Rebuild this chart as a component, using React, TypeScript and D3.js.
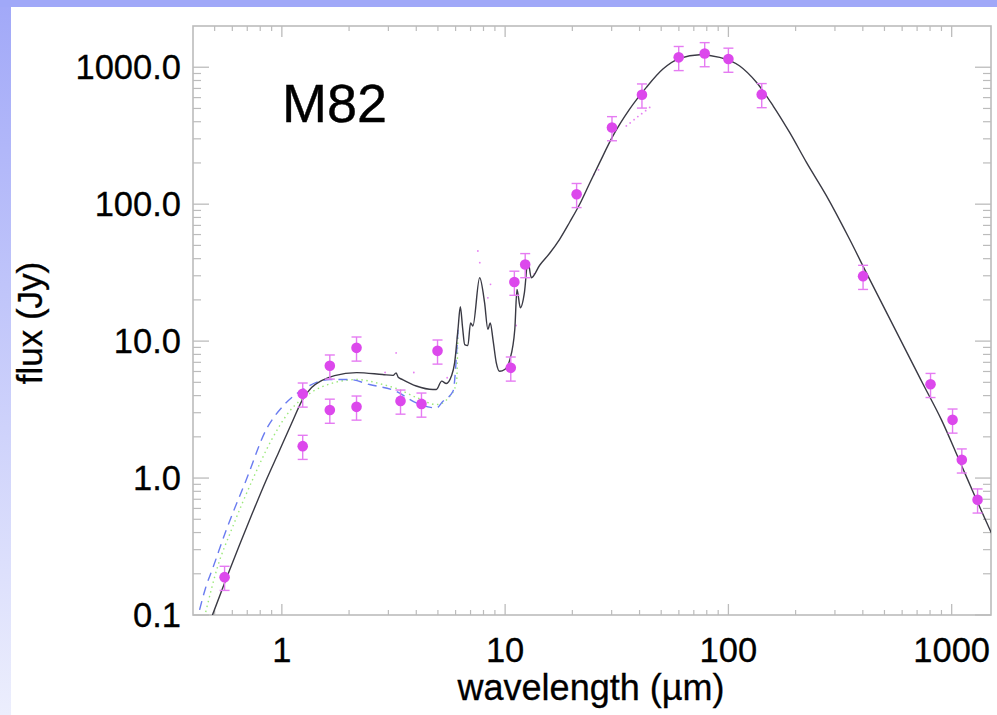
import React from "react";
import * as d3 from "d3";

// Photometric data (wavelength in µm, flux in Jy)
const WAVELENGTH = [0.554, 1.24, 1.24, 1.64, 1.64, 2.16, 2.16, 3.4, 4.22, 4.98, 10.6, 11.0, 12.3, 20.9, 30.1, 41, 59.9, 78.3, 100, 141, 401, 804, 1009, 1110, 1306];
const FLUX = [0.189, 4.12, 1.71, 6.6, 3.14, 8.93, 3.31, 3.66, 3.48, 8.49, 6.38, 27.0, 36.3, 118, 363, 629, 1181, 1260, 1148, 633, 29.8, 4.84, 2.66, 1.36, 0.694];

// Model SED (solid)
const MODEL_WAVE = [0.489, 0.565, 0.646, 0.739, 0.845, 0.966, 1.105, 1.238, 1.359, 1.506, 1.722, 2.161, 2.826, 3.15, 3.25, 3.32, 3.47, 4.0, 4.75, 4.92, 5.2, 5.45, 5.74, 5.94, 6.15, 6.3, 6.45, 6.59, 6.81, 7.0, 7.17, 7.69, 8.09, 8.37, 8.58, 8.82, 9.13, 9.45, 9.95, 10.5, 11.05, 11.3, 11.7, 12.2, 12.65, 13.1, 14.28, 15.83, 17.54, 19.45, 21.57, 24.0, 26.5, 30.4, 36.1, 42.9, 50.9, 60.5, 74.4, 91.4, 112, 133.5, 158.5, 188, 224, 275, 349, 422, 745, 900, 1079, 1291, 1507];
const MODEL_FLUX = [0.1, 0.1865, 0.325, 0.557, 0.94, 1.53, 2.5, 3.74, 4.58, 5.15, 5.6, 5.89, 5.7, 5.62, 5.86, 5.45, 5.24, 4.7, 4.43, 4.43, 5.1, 4.9, 5.53, 6.94, 12.2, 17.8, 12.5, 9.44, 9.29, 13.6, 12.9, 29.0, 19.1, 12.2, 13.6, 10.3, 6.94, 6.02, 6.2, 7.33, 12.2, 23.8, 17.5, 22.6, 38.4, 29.0, 35.8, 43.8, 55.4, 73.8, 99.8, 144, 201, 315, 494, 713, 970, 1161, 1234, 1181, 1025, 776, 523, 334, 201, 115, 55.4, 29.8, 4.84, 2.66, 1.36, 0.694, 0.396];

// Alternative model (blue dashed)
const DASH_WAVE = [0.428, 0.455, 0.491, 0.564, 0.693, 0.851, 1.01, 1.24, 1.64, 2.01, 2.47, 3.25, 4.0, 4.92, 5.26, 5.84, 6.15];
const DASH_FLUX = [0.109, 0.157, 0.221, 0.419, 0.972, 2.26, 3.34, 4.43, 5.24, 5.24, 4.82, 4.3, 3.54, 3.25, 3.63, 4.3, 12.2];

// Alternative model (green dotted)
const DOT_WAVE = [0.456, 0.515, 0.595, 0.739, 0.899, 1.08, 1.33, 1.72, 2.16, 2.83, 3.26, 4.01, 4.93, 5.64, 6.06, 6.15];
const DOT_FLUX = [0.105, 0.224, 0.419, 0.972, 1.9, 3.06, 4.14, 4.98, 5.24, 4.82, 4.51, 3.87, 3.44, 3.93, 4.98, 12.2];

// Spectrum (sparse magenta dots)
const SPEC_WAVE = [2.9, 3.25, 3.9, 5.5, 7.55, 7.7, 8.37, 8.6, 11.2, 13.5, 25.0, 26.2, 34.9, 36.3, 37.8, 39.3, 40.9, 42.6, 44.4];
const SPEC_FLUX = [5.9, 8.2, 5.9, 5.4, 45.5, 37.4, 20.7, 26.0, 13.0, 31.0, 165, 178, 373, 392, 414, 436, 458, 482, 509];

const X_TICKS = [1, 10, 100, 1000];
const X_TICK_LABELS = ["1", "10", "100", "1000"];
const Y_TICKS = [0.1, 1, 10, 100, 1000];
const Y_TICK_LABELS = ["0.1", "1.0", "10.0", "100.0", "1000.0"];

const FONT = "'Liberation Sans', Arial, Helvetica, sans-serif";

export default function App() {
  const W = 997;
  const H = 715;
  const L = 193, R = 991, T = 26, B = 615;
  const x = d3.scaleLog().domain([0.4, 1500]).range([L, R]);
  const y = d3.scaleLog().domain([0.1, 2000]).range([B, T]);

  const line = d3
    .line<[number, number]>()
    .x((d) => x(d[0]))
    .y((d) => y(d[1]))
    .curve(d3.curveMonotoneX);

  const zip = (a: number[], b: number[]) => a.map((v, i) => [v, b[i]] as [number, number]);

  const minorX: number[] = [];
  const minorY: number[] = [];
  [0.1, 1, 10, 100, 1000].forEach((d) => {
    for (let k = 2; k <= 9; k++) {
      const v = d * k;
      if (v > 0.4 && v < 1500) minorX.push(v);
      if (v > 0.1 && v < 2000) minorY.push(v);
    }
  });

  const axisColor = "#bcbcbc";
  const ptColor = "#dc48ec";
  const errColor = "#e57bf2";

  return (
    <div style={{ position: "absolute", left: 0, top: 0, width: W, height: H }}>
      <svg width={W} height={H} style={{ display: "block" }}>
        <defs>
          <linearGradient id="leftbar" x1="0" y1="0" x2="0" y2="1">
            <stop offset="0" stopColor="#a2a9f8" />
            <stop offset="1" stopColor="#eceefd" />
          </linearGradient>
          <clipPath id="plotclip">
            <rect x={L} y={T} width={R - L} height={B - T} />
          </clipPath>
        </defs>
        <rect x={0} y={0} width={W} height={H} fill="#ffffff" />
        <rect x={0} y={0} width={W} height={7} fill="#a0a8f8" />
        <rect x={0} y={7} width={11} height={H - 7} fill="url(#leftbar)" />

        {/* frame */}
        <rect x={L} y={T} width={R - L} height={B - T} fill="none" stroke={axisColor} strokeWidth={1.6} />

        {/* x ticks */}
        {X_TICKS.map((v) => (
          <g key={"xt" + v}>
            <line x1={x(v)} x2={x(v)} y1={B} y2={B - 11} stroke={axisColor} strokeWidth={1.3} />
            <line x1={x(v)} x2={x(v)} y1={T} y2={T + 11} stroke={axisColor} strokeWidth={1.3} />
          </g>
        ))}
        {minorX.map((v) => (
          <g key={"xm" + v}>
            <line x1={x(v)} x2={x(v)} y1={B} y2={B - 5} stroke={axisColor} strokeWidth={1.2} />
            <line x1={x(v)} x2={x(v)} y1={T} y2={T + 5} stroke={axisColor} strokeWidth={1.2} />
          </g>
        ))}
        {/* y ticks */}
        {Y_TICKS.map((v) => (
          <g key={"yt" + v}>
            <line x1={L} x2={L + 16} y1={y(v)} y2={y(v)} stroke={axisColor} strokeWidth={1.3} />
            <line x1={R} x2={R - 16} y1={y(v)} y2={y(v)} stroke={axisColor} strokeWidth={1.3} />
          </g>
        ))}
        {minorY.map((v) => (
          <g key={"ym" + v}>
            <line x1={L} x2={L + 8} y1={y(v)} y2={y(v)} stroke={axisColor} strokeWidth={1.2} />
            <line x1={R} x2={R - 8} y1={y(v)} y2={y(v)} stroke={axisColor} strokeWidth={1.2} />
          </g>
        ))}

        {/* tick labels */}
        {X_TICKS.map((v, i) => (
          <text key={"xl" + v} x={x(v)} y={662} textAnchor="middle" fontFamily={FONT} fontSize={34.5} fill="#000" stroke="#000" strokeWidth={0.3}>
            {X_TICK_LABELS[i]}
          </text>
        ))}
        {Y_TICKS.map((v, i) => (
          <text key={"yl" + v} x={181} y={y(v) + 12} textAnchor="end" fontFamily={FONT} fontSize={34.5} fill="#000" stroke="#000" strokeWidth={0.3}>
            {Y_TICK_LABELS[i]}
          </text>
        ))}

        {/* axis titles */}
        <text x={591} y={700} textAnchor="middle" fontFamily={FONT} fontSize={36} fill="#000" stroke="#000" strokeWidth={0.3}>
          wavelength (µm)
        </text>
        <text transform="translate(42,323) rotate(-90)" textAnchor="middle" fontFamily={FONT} fontSize={35} fill="#000" stroke="#000" strokeWidth={0.3}>
          flux (Jy)
        </text>

        <text x={282} y={122} fontFamily={FONT} fontSize={54} fill="#000" stroke="#000" strokeWidth={0.4}>
          M82
        </text>

        <g clipPath="url(#plotclip)">
          {/* spectrum dots */}
          {SPEC_WAVE.map((w, i) => (
            <circle key={"sp" + i} cx={x(w)} cy={y(SPEC_FLUX[i])} r={0.9} fill={ptColor} opacity={0.7} />
          ))}
          <path d={line(zip(DOT_WAVE, DOT_FLUX)) || ""} fill="none" stroke="#9be87a" strokeWidth={1.4} strokeDasharray="1.5,3.5" />
          <path d={line(zip(DASH_WAVE, DASH_FLUX)) || ""} fill="none" stroke="#6a7cf0" strokeWidth={1.4} strokeDasharray="9,6" />
          <path d={line(zip(MODEL_WAVE, MODEL_FLUX)) || ""} fill="none" stroke="#3a3a44" strokeWidth={1.4} />

          {/* error bars and points */}
          {WAVELENGTH.map((w, i) => {
            const f = FLUX[i];
            const cx = x(w);
            const y1 = y(f * 1.2);
            const y0 = y(f * 0.8);
            return (
              <g key={"pt" + i}>
                <line x1={cx} x2={cx} y1={y1} y2={y0} stroke={errColor} strokeWidth={1.4} />
                <line x1={cx - 5} x2={cx + 5} y1={y1} y2={y1} stroke={errColor} strokeWidth={1.4} />
                <line x1={cx - 5} x2={cx + 5} y1={y0} y2={y0} stroke={errColor} strokeWidth={1.4} />
                <circle cx={cx} cy={y(f)} r={5.3} fill={ptColor} />
              </g>
            );
          })}
        </g>
      </svg>
    </div>
  );
}
